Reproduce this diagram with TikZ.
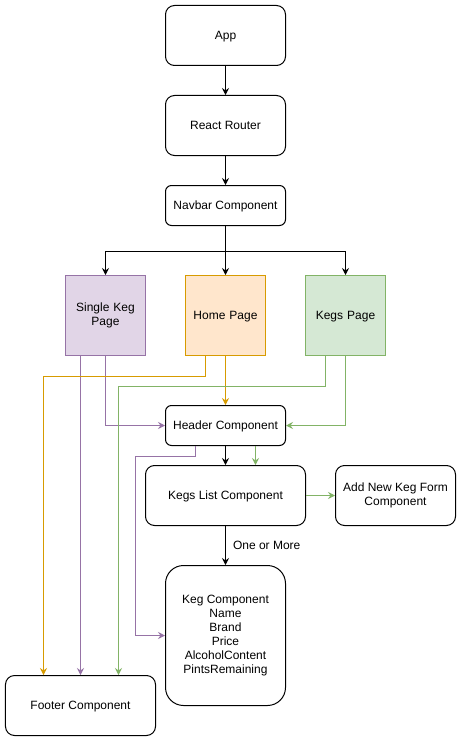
\documentclass[tikz,border=0pt]{standalone}
\usepackage{fontspec}
\setmainfont{Liberation Sans}
\usetikzlibrary{arrows.meta}
\definecolor{pF}{HTML}{E1D5E7}\definecolor{pS}{HTML}{9673A6}
\definecolor{oF}{HTML}{FFE6CC}\definecolor{oS}{HTML}{D79B00}
\definecolor{gF}{HTML}{D5E8D4}\definecolor{gS}{HTML}{82B366}
\begin{document}
\begin{tikzpicture}[x=1pt,y=-1pt,
  box/.style={draw=black,line width=1pt,fill=white,align=center,inner sep=2pt,
    font=\fontsize{12}{14}\selectfont},
  one/.style={text height=9pt,text depth=0.6pt},
  page/.style={box,minimum width=80pt,minimum height=80pt,text width=74pt},
  arr/.style={line width=1pt,-{Stealth[length=7pt,width=7pt,inset=2.5pt]}},
  arrP/.style={arr,draw=pS},
  arrO/.style={arr,draw=oS},
  arrG/.style={arr,draw=gS}]
\fill[white] (-0.5,-0.5) rectangle (460.5,740.5);
\useasboundingbox (-0.5,-0.5) rectangle (460.5,740.5);
\node[box,one,minimum width=120pt,minimum height=60pt,rounded corners=9pt] (app) at (225,35) {App};
\node[box,one,minimum width=120pt,minimum height=60pt,rounded corners=9pt] (router) at (225,125) {React Router};
\node[box,one,minimum width=120pt,minimum height=40pt,rounded corners=6pt] (navbar) at (225,205) {Navbar Component};
\node[page,fill=pF,draw=pS] (single) at (105,315) {Single Keg\\Page};
\node[page,one,fill=oF,draw=oS] (home) at (225,315) {Home Page};
\node[page,one,fill=gF,draw=gS] (kegs) at (345,315) {Kegs Page};
\node[box,one,minimum width=120pt,minimum height=40pt,rounded corners=6pt] (header) at (225,425) {Header Component};
\node[box,one,minimum width=160pt,minimum height=60pt,rounded corners=9pt] (list) at (225,495) {Kegs List Component};
\node[box,minimum width=120pt,minimum height=60pt,rounded corners=9pt] (addnew) at (395,495) {Add New Keg Form\\Component};
\node[box,minimum width=120pt,minimum height=140pt,rounded corners=18pt] (keg) at (225,635) {Keg Component\\Name\\Brand\\Price\\AlcoholContent\\PintsRemaining};
\node[box,one,minimum width=150pt,minimum height=60pt,rounded corners=9pt] (footer) at (80,705) {Footer Component};

\draw[arr] (app) -- (router);
\draw[arr] (router) -- (navbar);
\draw[arr] (navbar.south) -- ++(0,25) -| (single.north);
\draw[arr] (navbar.south) -- (home.north);
\draw[arr] (navbar.south) -- ++(0,25) -| (kegs.north);

\draw[arrP] (single.south -| footer.north) -- (footer.north);
\draw[arrP] (single.south) |- (header.west);
\draw[arrO] ([xshift=-20pt]home.south) -- ++(0,20) -| ([xshift=-37pt]footer.north);
\draw[arrO] (home.south) -- (header.north);
\draw[arrG] ([xshift=-20pt]kegs.south) -- ++(0,30) -| ([xshift=38pt]footer.north);
\draw[arrG] (kegs.south) |- (header.east);

\draw[arr] (header.south) -- (list.north);
\draw[arrG] ([xshift=30pt]header.south) -- ([xshift=30pt]list.north);
\draw[arrP] ([xshift=-30pt]header.south) -- ++(0,10) -- ++(-60,0) |- (keg.west);
\draw[arrG] (list.east) -- (addnew.west);
\draw[arr] (list.south) -- (keg.north) node[midway,right,inner sep=0pt,xshift=7pt,font=\fontsize{12}{14}\selectfont] {One or More};
\end{tikzpicture}
\end{document}
